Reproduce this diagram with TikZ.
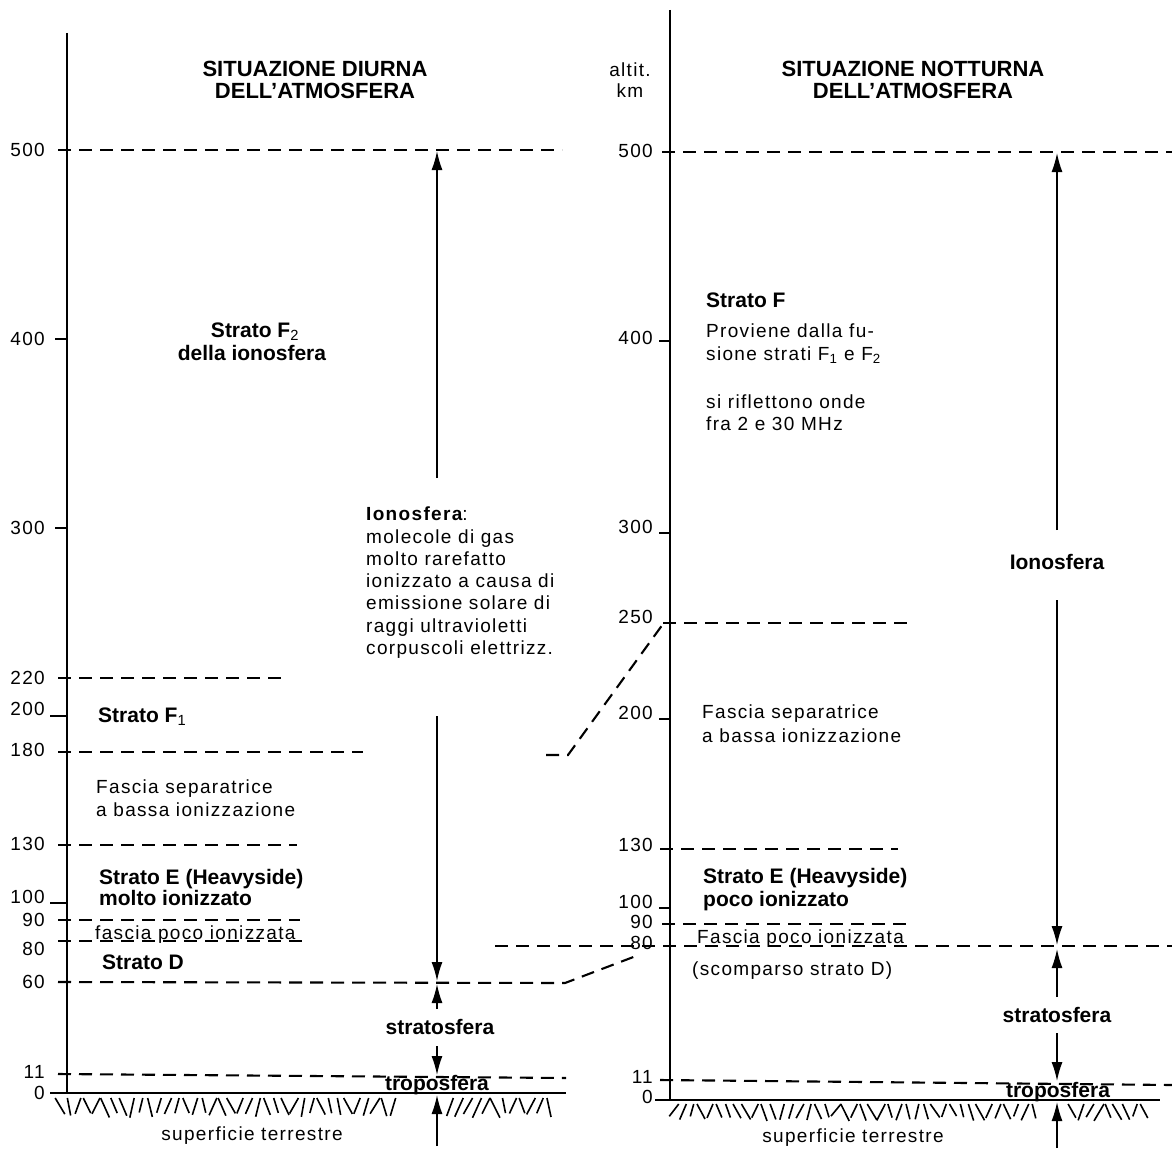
\documentclass[tikz,border=0pt]{standalone}
\usepackage{fontspec}
\setmainfont{Liberation Sans}
\newfontfamily\bodyfont{Liberation Sans}[LetterSpace=7]
\usetikzlibrary{arrows.meta}
\tikzset{
 dline/.style={line width=2.1pt, dash pattern=on 13pt off 8pt},
 axisline/.style={line width=2pt},
 tickline/.style={line width=1.6pt},
 arr/.style={line width=1.5pt, -{Latex[length=19pt,width=11pt]}},
 body/.style={font=\bodyfont\fontsize{19}{22}\selectfont, inner sep=0pt},
 boldtxt/.style={font=\fontsize{21}{22}\selectfont\bfseries, inner sep=0pt},
 titletxt/.style={font=\fontsize{22}{22}\selectfont\bfseries, inner sep=0pt, anchor=base},
 lbl/.style={body, anchor=base east},
 hatch/.style={line width=1.6pt},
}
\begin{document}
\begin{tikzpicture}[x=1pt,y=-1pt]
\fill[white] (0,0) rectangle (1172,1148);
\useasboundingbox (0,0) rectangle (1172,1148);

% ================= LEFT (day) =================
\draw[axisline] (67,33) -- (67,1093);
% dashed levels
\draw[dline] (58,150) -- (562,150);
\draw[dline] (58,678) -- (285,678);
\draw[dline] (58,752) -- (363,752);
\draw[dline] (58,845) -- (297,845);
\draw[dline] (58,920) -- (300,920);
\draw[dline] (58,941) -- (303,941);
\draw[dline] (58,982) -- (565,983) -- (636,956);
\draw[dline] (58,1074) -- (566,1078);
\draw[dline] (546,755) -- (568,755) -- (663,624);
% ground
\draw[axisline] (50,1093) -- (566,1093);
% ticks
\draw[tickline] (55,339) -- (67,339);
\draw[tickline] (55,528) -- (67,528);
\draw[tickline] (50,716) -- (67,716);
\draw[tickline] (50,903) -- (67,903);
% tick labels
\node[lbl] (L500) at (45,156) {500};
\node[lbl] (L400) at (45,345) {400};
\node[lbl] (L300) at (45,534) {300};
\node[lbl] (L220) at (45,684) {220};
\node[lbl] (L200) at (45,715) {200};
\node[lbl] (L180) at (45,756) {180};
\node[lbl] (L130) at (45,850) {130};
\node[lbl] (L100) at (45,903) {100};
\node[lbl] (L90) at (45,926) {90};
\node[lbl] (L80) at (45,955) {80};
\node[lbl] (L60) at (45,988) {60};
\node[lbl] (L11) at (45,1078) {11};
\node[lbl] (L0) at (45,1099) {0};

% titles
\node[titletxt] (tL1) at (315,76) {SITUAZIONE DIURNA};
\node[titletxt] (tL2) at (315,98) {DELL'ATMOSFERA};

% texts
\node[boldtxt, anchor=base] (f2a) at (255,337) {Strato F\textsubscript{\normalfont 2}};
\node[boldtxt, anchor=base] (f2b) at (252,360) {della ionosfera};
\node[body, anchor=base west] (ion1) at (366,520) {\bfseries Ionosfera\mdseries:};
\foreach \t/\y [count=\i] in {molecole di gas/543, molto rarefatto/565, ionizzato a causa di/587, emissione solare di/609, raggi ultravioletti/632, corpuscoli elettrizz./654}
  \node[body, anchor=base west] (ionl\i) at (366,\y) {\t};
\node[boldtxt, anchor=base west] (f1) at (98,722) {Strato F\textsubscript{\normalfont 1}};
\node[body, anchor=base west] (fsL1) at (96,793) {Fascia separatrice};
\node[body, anchor=base west] (fsL2) at (96,816) {a bassa ionizzazione};
\node[boldtxt, anchor=base west] (seL1) at (99,884) {Strato E (Heavyside)};
\node[boldtxt, anchor=base west] (seL2) at (99,905) {molto ionizzato};
\node[body, anchor=base west] (fpL) at (95,939) {fascia poco ionizzata};
\node[boldtxt, anchor=base west] (sd) at (102,969) {Strato D};
\node[boldtxt, anchor=base] (stL) at (440,1034) {stratosfera};
\node[boldtxt, anchor=base] (trL) at (437,1090) {troposfera};
\node[body, anchor=base] (suL) at (252,1140) {superficie terrestre};

% arrows
\coordinate (aL1s) at (437,478); \coordinate (aL1e) at (437,151);
\coordinate (aL2s) at (437,716); \coordinate (aL2e) at (437,981);
\coordinate (aL3s) at (437,1009); \coordinate (aL3e) at (437,984);
\coordinate (aL4s) at (437,1046); \coordinate (aL4e) at (437,1075);
\coordinate (aL5s) at (437,1146); \coordinate (aL5e) at (437,1095);
\foreach \k in {1,...,5} \draw[arr] (aL\k s) -- (aL\k e);

% ground hatching left
\pgfmathsetseed{11}
\foreach \x in {60,69,...,400,450,459,...,556} {
  \pgfmathsetmacro\sg{rnd<0.55 ? 1 : -1}
  \pgfmathsetmacro\dx{\sg*(3+rnd*7)}
  \pgfmathsetmacro\ln{14+rnd*6}
  \draw[hatch] (\x+0.5*\dx,1098) -- ++(-\dx,\ln);
}

% ================= RIGHT (night) =================
\draw[axisline] (670,10) -- (670,1100);
\draw[dline] (662,152) -- (1172,152);
\draw[dline] (663,623) -- (907,623);
\draw[dline] (660,849) -- (898,849);
\draw[dline] (662,924) -- (913,924);
\draw[dline] (495,946) -- (1172,946);
\draw[dline] (660,1080) -- (1172,1085);
\draw[axisline] (655,1100) -- (1160,1100);
\draw[tickline] (659,341) -- (670,341);
\draw[tickline] (659,533) -- (670,533);
\draw[tickline] (659,719) -- (670,719);
\draw[tickline] (659,908) -- (670,908);

\node[lbl] (R500) at (653,157) {500};
\node[lbl] (R400) at (653,344) {400};
\node[lbl] (R300) at (653,533) {300};
\node[lbl] (R250) at (653,623) {250};
\node[lbl] (R200) at (653,719) {200};
\node[lbl] (R130) at (653,851) {130};
\node[lbl] (R100) at (653,908) {100};
\node[lbl] (R90) at (653,928) {90};
\node[lbl] (R80) at (653,949) {80};
\node[lbl] (R11) at (653,1083) {11};
\node[lbl] (R0) at (653,1103) {0};

\node[body, anchor=base] (alt1) at (630,76) {altit.};
\node[body, anchor=base] (alt2) at (630,97) {km};
\node[titletxt] (tR1) at (913,76) {SITUAZIONE NOTTURNA};
\node[titletxt] (tR2) at (913,98) {DELL'ATMOSFERA};

\node[boldtxt, anchor=base west] (sF) at (706,307) {Strato F};
\node[body, anchor=base west] (pv1) at (706,337) {Proviene dalla fu-};
\node[body, anchor=base west] (pv2) at (706,360) {sione strati F\textsubscript{1} e F\textsubscript{2}};
\node[body, anchor=base west] (rf1) at (706,408) {si riflettono onde};
\node[body, anchor=base west] (rf2) at (706,430) {fra 2 e 30 MHz};
\node[boldtxt, anchor=base] (ionR) at (1057,569) {Ionosfera};
\node[body, anchor=base west] (fsR1) at (702,718) {Fascia separatrice};
\node[body, anchor=base west] (fsR2) at (702,742) {a bassa ionizzazione};
\node[boldtxt, anchor=base west] (seR1) at (703,883) {Strato E (Heavyside)};
\node[boldtxt, anchor=base west] (seR2) at (703,906) {poco ionizzato};
\node[body, anchor=base west] (fpR) at (697,943) {Fascia poco ionizzata};
\node[body, anchor=base west] (scD) at (692,975) {(scomparso strato D)};
\node[boldtxt, anchor=base] (stR) at (1057,1022) {stratosfera};
\node[boldtxt, anchor=base] (trR) at (1058,1097) {troposfera};
\node[body, anchor=base] (suR) at (853,1142) {superficie terrestre};

\coordinate (aR1s) at (1057,530); \coordinate (aR1e) at (1057,153);
\coordinate (aR2s) at (1057,600); \coordinate (aR2e) at (1057,945);
\coordinate (aR3s) at (1057,997); \coordinate (aR3e) at (1057,949);
\coordinate (aR4s) at (1057,1033); \coordinate (aR4e) at (1057,1081);
\coordinate (aR5s) at (1057,1148); \coordinate (aR5e) at (1057,1102);
\foreach \k in {1,...,5} \draw[arr] (aR\k s) -- (aR\k e);

\pgfmathsetseed{5}
\foreach \x in {674,683,...,1040,1072,1081,...,1150} {
  \pgfmathsetmacro\sg{rnd<0.5 ? 1 : -1}
  \pgfmathsetmacro\dx{\sg*(3+rnd*7)}
  \pgfmathsetmacro\ln{12+rnd*5}
  \draw[hatch] (\x+0.5*\dx,1104) -- ++(-\dx,\ln);
}
\end{tikzpicture}
\end{document}
